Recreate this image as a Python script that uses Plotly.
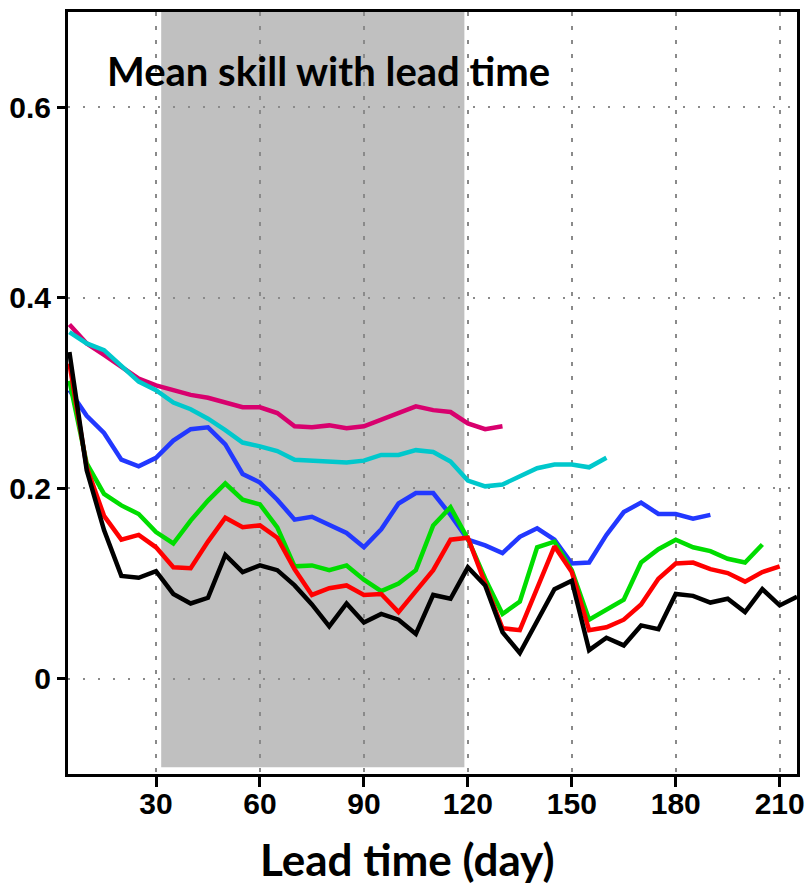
import plotly.graph_objects as go

# Lead times (days)
days = list(range(5, 220, 5))  # 5 ... 215

pink = [0.372, 0.352, 0.340, 0.327, 0.315, 0.308, 0.303, 0.298, 0.295, 0.290,
        0.285, 0.285, 0.279, 0.265, 0.264, 0.266, 0.263, 0.265, 0.272, 0.279,
        0.286, 0.282, 0.280, 0.268, 0.262, 0.265]
cyan = [0.364, 0.352, 0.345, 0.329, 0.312, 0.303, 0.290, 0.283, 0.273, 0.261,
        0.248, 0.244, 0.239, 0.230, 0.229, 0.227, 0.227, 0.229, 0.235, 0.235,
        0.240, 0.238, 0.228, 0.208, 0.202, 0.204, 0.213, 0.221, 0.225, 0.225,
        0.222, 0.232]
blue = [0.303, 0.276, 0.258, 0.230, 0.223, 0.232, 0.250, 0.262, 0.264, 0.246,
        0.215, 0.206, 0.188, 0.167, 0.170, 0.161, 0.153, 0.138, 0.157, 0.184,
        0.195, 0.195, 0.172, 0.146, 0.140, 0.132, 0.149, 0.158, 0.146, 0.121,
        0.122, 0.151, 0.175, 0.185, 0.173, 0.173, 0.168, 0.172]
green = [0.313, 0.226, 0.194, 0.182, 0.173, 0.154, 0.142, 0.166, 0.187, 0.205,
         0.188, 0.183, 0.159, 0.118, 0.119, 0.114, 0.119, 0.104, 0.092, 0.100,
         0.114, 0.161, 0.180, 0.147, 0.105, 0.068, 0.081, 0.138, 0.144, 0.114,
         0.062, 0.072, 0.083, 0.122, 0.136, 0.146, 0.138, 0.134, 0.126, 0.122,
         0.141]
red = [0.331, 0.222, 0.171, 0.146, 0.151, 0.138, 0.117, 0.116, 0.144, 0.169,
       0.159, 0.161, 0.148, 0.115, 0.088, 0.095, 0.098, 0.088, 0.089, 0.070,
       0.092, 0.114, 0.146, 0.148, 0.100, 0.053, 0.051, 0.095, 0.139, 0.112,
       0.051, 0.054, 0.062, 0.078, 0.105, 0.121, 0.122, 0.115, 0.111, 0.102,
       0.112, 0.118]
black = [0.343, 0.219, 0.156, 0.108, 0.106, 0.113, 0.089, 0.079, 0.085, 0.130,
         0.112, 0.119, 0.114, 0.098, 0.078, 0.055, 0.079, 0.059, 0.068, 0.062,
         0.047, 0.088, 0.084, 0.117, 0.098, 0.049, 0.027, 0.060, 0.094, 0.103,
         0.030, 0.043, 0.035, 0.056, 0.052, 0.089, 0.087, 0.080, 0.084, 0.070,
         0.094, 0.077, 0.086]

series = [
    ("pink", pink, "#D8006E"),
    ("cyan", cyan, "#00C8CC"),
    ("blue", blue, "#2238FF"),
    ("green", green, "#00DD00"),
    ("red", red, "#FF0000"),
    ("black", black, "#000000"),
]

shade_start, shade_end = 31.5, 119

x_ticks = [30, 60, 90, 120, 150, 180, 210]
y_ticks = [0, 0.2, 0.4, 0.6]
y_tick_text = ["0", "0.2", "0.4", "0.6"]

title_text = "Mean skill with lead time"
xlabel_text = "Lead time (day)"

fig = go.Figure()
for name, vals, col in series:
    fig.add_trace(go.Scatter(x=days[:len(vals)], y=vals, mode="lines", name=name,
                             line=dict(color=col, width=4.5), showlegend=False))

fig.add_shape(type="rect", xref="x", yref="y", x0=shade_start, x1=shade_end,
              y0=-0.093, y1=0.7, fillcolor="#C0C0C0", line=dict(width=0),
              layer="below")

tick_font = dict(family="Liberation Sans, Arial, sans-serif",
                 size=30, color="black", weight="bold")

fig.update_layout(
    width=807, height=886,
    margin=dict(l=68, r=10, t=12, b=112),
    paper_bgcolor="white", plot_bgcolor="white",
    xaxis=dict(range=[4.6, 215], tickvals=x_ticks, ticks="outside", ticklen=10,
               tickwidth=3, tickcolor="black", showline=True, linewidth=3,
               linecolor="black", mirror=True, automargin=False,
               ticklabelstandoff=-9,
               tickfont=tick_font, showgrid=True, gridcolor="#8a8a8a",
               griddash="4px,10px", gridwidth=1.5, zeroline=False),
    yaxis=dict(range=[-0.1, 0.7], tickvals=y_ticks, ticktext=y_tick_text,
               ticks="outside", ticklen=8, tickwidth=3, tickcolor="black",
               showline=True, linewidth=3, linecolor="black", mirror=True,
               automargin=False, tickfont=tick_font, showgrid=True,
               gridcolor="#8a8a8a", griddash="2px,13px", gridwidth=2,
               zeroline=False),
    annotations=[
        dict(text=title_text, xref="paper", yref="paper", x=0.051, y=0.922,
             xanchor="left", yanchor="middle", showarrow=False,
             font=dict(family="Lato, Open Sans, sans-serif", size=40,
                       color="black", weight="bold")),
        dict(text=xlabel_text, xref="paper", yref="paper", x=0.466, y=-0.111,
             xanchor="center", yanchor="middle", showarrow=False,
             font=dict(family="Lato, Open Sans, sans-serif", size=44,
                       color="black", weight="bold")),
    ],
)

fig.write_html("out.html")
